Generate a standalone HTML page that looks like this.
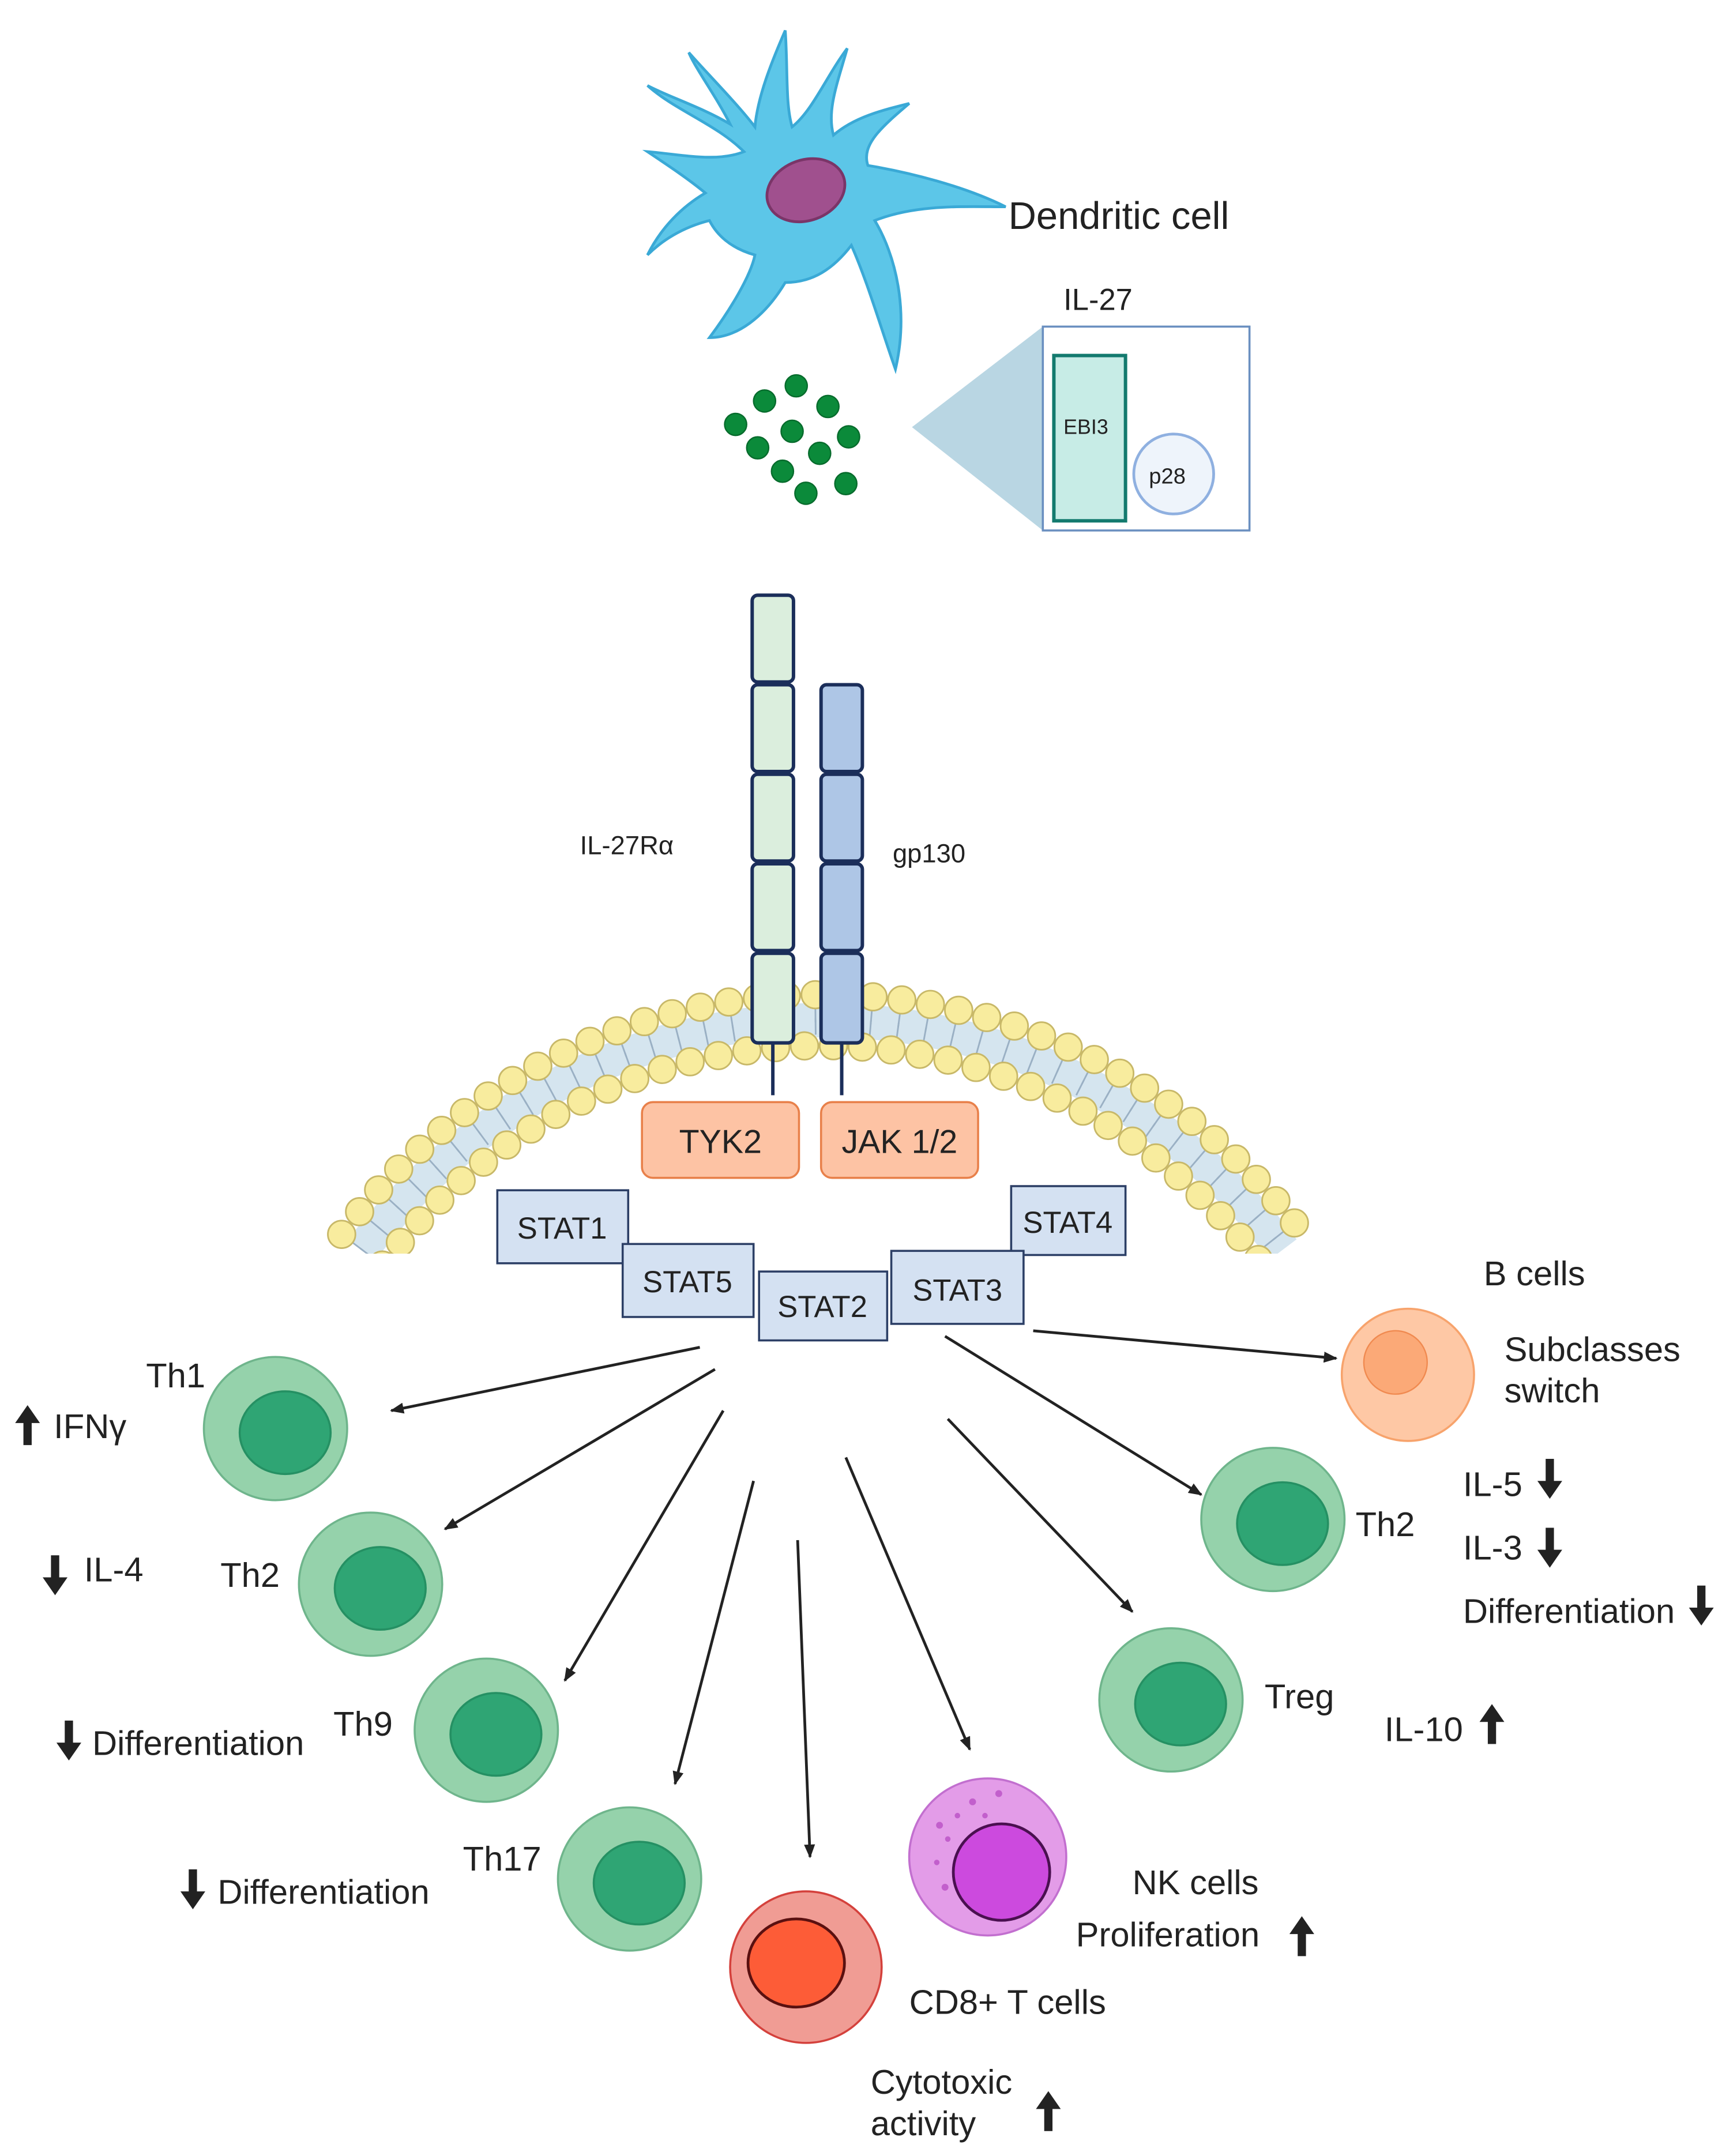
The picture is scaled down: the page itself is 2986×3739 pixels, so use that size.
<!DOCTYPE html>
<html><head><meta charset="utf-8"><style>
html,body{margin:0;padding:0;background:#fff}
svg{display:block}
text{font-family:"Liberation Sans",sans-serif;fill:#222}
.st{fill:#d4e1f2;stroke:#2c3f66;stroke-width:1.5}
.sl{font-family:"Liberation Sans Narrow","Liberation Sans",sans-serif;font-size:22px}
.ar{stroke:#222;stroke-width:2;marker-end:url(#ah)}
.lb{font-size:25px}
</style></head><body>
<svg id="s" width="2986" height="3739" viewBox="0 0 1250 1565" xmlns="http://www.w3.org/2000/svg">
<defs>
<marker id="ah" markerWidth="10" markerHeight="8" refX="9" refY="4" orient="auto" markerUnits="userSpaceOnUse"><path d="M0,0 L10,4 L0,8 z" fill="#222"/></marker>
<clipPath id="mc"><rect x="0" y="0" width="1250" height="910"/></clipPath>
<g id="upa"><path d="M-3,12 L-3,-4 L-9,-4 L0,-17 L9,-4 L3,-4 L3,12 z" fill="#222"/></g>
<g id="dna"><path d="M-3,-12 L-3,4 L-9,4 L0,17 L9,4 L3,4 L3,-12 z" fill="#222"/></g>
</defs>
<g fill="#5cc6e8" stroke="#3aa9d6" stroke-width="2">
<path d="M540,110 C520,90 490,80 470,62 C485,70 510,78 530,90 C520,70 505,50 500,38 C515,55 535,75 548,92 C550,70 560,45 570,22 C572,50 570,75 575,92 C590,80 600,55 615,35 C608,60 600,80 605,98 C620,85 640,80 660,75 C640,92 625,105 630,120 C660,125 700,135 730,150 C700,150 665,148 635,160 C650,185 660,225 650,268 C640,240 630,205 618,178 C605,195 590,205 570,205 C555,230 535,245 515,245 C530,225 545,200 548,185 C530,180 520,170 515,160 C495,165 480,175 470,185 C480,165 495,150 512,140 C500,130 485,120 470,110 C495,112 520,118 540,110 z"/>
</g>
<ellipse cx="585" cy="138" rx="29" ry="22" fill="#a0508e" stroke="#7a3568" stroke-width="2" transform="rotate(-20 585 138)"/>
<text x="732" y="166" style="font-size:28px">Dendritic cell</text>
<text x="772" y="225" style="font-size:22px">IL-27</text>
<polygon points="662,310 757,237 757,385" fill="#b9d6e3"/>
<rect x="757" y="237" width="150" height="148" fill="#fff" stroke="#6a8fc0" stroke-width="1.5"/>
<rect x="765" y="258" width="52" height="120" fill="#c7ece6" stroke="#137a6e" stroke-width="2.5"/>
<text x="772" y="315" style="font-size:15px">EBI3</text>
<circle cx="852" cy="344" r="29" fill="#eef4fb" stroke="#8fb0e0" stroke-width="2"/>
<text x="834" y="351" style="font-size:16px">p28</text>
<g fill="#0b8a3a" stroke="#076b2c">
<circle cx="578" cy="280" r="8"/><circle cx="555" cy="291" r="8"/><circle cx="601" cy="295" r="8"/><circle cx="534" cy="308" r="8"/><circle cx="575" cy="313" r="8"/><circle cx="616" cy="317" r="8"/><circle cx="550" cy="325" r="8"/><circle cx="595" cy="329" r="8"/><circle cx="568" cy="342" r="8"/><circle cx="614" cy="351" r="8"/><circle cx="585" cy="358" r="8"/>
</g>
<g id="mem" clip-path="url(#mc)">
<path id="band" fill="#d5e5ef" stroke="none"/>
</g>
<g stroke="#1b2e5a" stroke-width="2.5">
<rect x="546" y="432" width="30" height="63" rx="4" fill="#dbeedd"/>
<rect x="546" y="497" width="30" height="63" rx="4" fill="#dbeedd"/>
<rect x="546" y="562" width="30" height="63" rx="4" fill="#dbeedd"/>
<rect x="546" y="627" width="30" height="63" rx="4" fill="#dbeedd"/>
<rect x="546" y="692" width="30" height="65" rx="4" fill="#dbeedd"/>
<rect x="596" y="497" width="30" height="63" rx="4" fill="#aec6e6"/>
<rect x="596" y="562" width="30" height="63" rx="4" fill="#aec6e6"/>
<rect x="596" y="627" width="30" height="63" rx="4" fill="#aec6e6"/>
<rect x="596" y="692" width="30" height="65" rx="4" fill="#aec6e6"/>
<line x1="561" y1="757" x2="561" y2="795"/><line x1="611" y1="757" x2="611" y2="795"/>
</g>
<text x="421" y="620" style="font-size:19px">IL-27Rα</text>
<text x="648" y="626" style="font-size:19px">gp130</text>
<rect x="466" y="800" width="114" height="55" rx="8" fill="#fdc3a4" stroke="#e8804a" stroke-width="1.5"/>
<text x="523" y="837" class="sl" text-anchor="middle" style="font-size:24px">TYK2</text>
<rect x="596" y="800" width="114" height="55" rx="8" fill="#fdc3a4" stroke="#e8804a" stroke-width="1.5"/>
<text x="653" y="837" class="sl" text-anchor="middle" style="font-size:24px">JAK 1/2</text>
<rect class="st" x="361" y="864" width="95" height="53"/><text class="sl" x="408" y="899" text-anchor="middle">STAT1</text>
<rect class="st" x="734" y="861" width="83" height="50"/><text class="sl" x="775" y="895" text-anchor="middle">STAT4</text>
<rect class="st" x="452" y="903" width="95" height="53"/><text class="sl" x="499" y="938" text-anchor="middle">STAT5</text>
<rect class="st" x="647" y="908" width="96" height="53"/><text class="sl" x="695" y="944" text-anchor="middle">STAT3</text>
<rect class="st" x="551" y="923" width="93" height="50"/><text class="sl" x="597" y="956" text-anchor="middle">STAT2</text>
<line class="ar" x1="508" y1="978" x2="284" y2="1024"/>
<line class="ar" x1="519" y1="994" x2="323" y2="1110"/>
<line class="ar" x1="525" y1="1024" x2="410" y2="1220"/>
<line class="ar" x1="547" y1="1075" x2="490" y2="1295"/>
<line class="ar" x1="579" y1="1118" x2="588" y2="1348"/>
<line class="ar" x1="614" y1="1058" x2="704" y2="1270"/>
<line class="ar" x1="688" y1="1030" x2="822" y2="1170"/>
<line class="ar" x1="686" y1="970" x2="872" y2="1085"/>
<line class="ar" x1="750" y1="966" x2="970" y2="986"/>
<g stroke="#6fb58c" stroke-width="1.5">
<circle cx="200" cy="1037" r="52" fill="#95d2ab"/><ellipse cx="207" cy="1040" rx="33" ry="30" fill="#2fa574" stroke="#259063"/>
<circle cx="269" cy="1150" r="52" fill="#95d2ab"/><ellipse cx="276" cy="1153" rx="33" ry="30" fill="#2fa574" stroke="#259063"/>
<circle cx="353" cy="1256" r="52" fill="#95d2ab"/><ellipse cx="360" cy="1259" rx="33" ry="30" fill="#2fa574" stroke="#259063"/>
<circle cx="457" cy="1364" r="52" fill="#95d2ab"/><ellipse cx="464" cy="1367" rx="33" ry="30" fill="#2fa574" stroke="#259063"/>
<circle cx="924" cy="1103" r="52" fill="#95d2ab"/><ellipse cx="931" cy="1106" rx="33" ry="30" fill="#2fa574" stroke="#259063"/>
<circle cx="850" cy="1234" r="52" fill="#95d2ab"/><ellipse cx="857" cy="1237" rx="33" ry="30" fill="#2fa574" stroke="#259063"/>
</g>
<circle cx="1022" cy="998" r="48" fill="#fec8a5" stroke="#f7a36c" stroke-width="1.5"/>
<circle cx="1013" cy="989" r="23" fill="#fba977" stroke="#f08a50"/>
<circle cx="585" cy="1428" r="55" fill="#f09c94" stroke="#d4413c" stroke-width="1.5"/>
<ellipse cx="578" cy="1425" rx="35" ry="32" fill="#fd5c37" stroke="#5a1010" stroke-width="2"/>
<circle cx="717" cy="1348" r="57" fill="#e39ce8" stroke="#c26fcf" stroke-width="1.5"/>
<circle cx="727" cy="1359" r="35" fill="#cc4ade" stroke="#4a1050" stroke-width="2"/>
<g fill="#c25fcc"><circle cx="682" cy="1325" r="2.5"/><circle cx="688" cy="1335" r="2"/><circle cx="706" cy="1308" r="2.5"/><circle cx="715" cy="1318" r="2"/><circle cx="725" cy="1302" r="2.5"/><circle cx="680" cy="1352" r="2"/><circle cx="686" cy="1370" r="2.5"/><circle cx="695" cy="1318" r="2"/></g>
<g>
<text x="106" y="1007" class="lb">Th1</text>
<text x="39" y="1044" class="lb">IFNγ</text>
<text x="61" y="1148" class="lb">IL-4</text>
<text x="160" y="1152" class="lb">Th2</text>
<text x="242" y="1260" class="lb">Th9</text>
<text x="67" y="1274" class="lb">Differentiation</text>
<text x="336" y="1358" class="lb">Th17</text>
<text x="158" y="1382" class="lb">Differentiation</text>
<text x="660" y="1462" class="lb">CD8+  T cells</text>
<text x="632" y="1520" class="lb">Cytotoxic</text>
<text x="632" y="1550" class="lb">activity</text>
<text x="822" y="1375" class="lb">NK cells</text>
<text x="781" y="1413" class="lb">Proliferation</text>
<text x="918" y="1240" class="lb">Treg</text>
<text x="1005" y="1264" class="lb">IL-10</text>
<text x="984" y="1115" class="lb">Th2</text>
<text x="1062" y="1086" class="lb">IL-5</text>
<text x="1062" y="1132" class="lb">IL-3</text>
<text x="1062" y="1178" class="lb">Differentiation</text>
<text x="1077" y="933" class="lb">B cells</text>
<text x="1092" y="988" class="lb">Subclasses</text>
<text x="1092" y="1018" class="lb">switch</text>
</g>
<use href="#upa" x="20" y="1037"/>
<use href="#dna" x="40" y="1141"/>
<use href="#dna" x="50" y="1261"/>
<use href="#dna" x="140" y="1369"/>
<use href="#upa" x="761" y="1535"/>
<use href="#upa" x="945" y="1408"/>
<use href="#upa" x="1083" y="1254"/>
<use href="#dna" x="1125" y="1071"/>
<use href="#dna" x="1125" y="1121"/>
<use href="#dna" x="1235" y="1163"/>
</svg>
<script>
(function(){
var ns="http://www.w3.org/2000/svg",g=document.getElementById("mem");
var cx=597,cy=1159,Ro=437,Ri=400,a0=-53*Math.PI/180,a1=53*Math.PI/180;
function P(r,a){return [cx+r*Math.sin(a),cy-r*Math.cos(a)];}
var p1=P(Ro-6,a0),p2=P(Ro-6,a1),p3=P(Ri+6,a1),p4=P(Ri+6,a0);
document.getElementById("band").setAttribute("d","M"+p1+" A"+(Ro-6)+","+(Ro-6)+" 0 0 1 "+p2+" L"+p3+" A"+(Ri+6)+","+(Ri+6)+" 0 0 0 "+p4+"z");
function add(t,at){var e=document.createElementNS(ns,t);for(var k in at)e.setAttribute(k,at[k]);g.appendChild(e);}
var step=21/Ro;
for(var a=a0;a<=a1;a+=step){var q=P(Ro-8,a),w=P(Ro-20,a);add("line",{x1:q[0],y1:q[1],x2:w[0],y2:w[1],stroke:"#9ab0c4","stroke-width":1.2});
var q2=P(Ri+8,a),w2=P(Ri+20,a);add("line",{x1:q2[0],y1:q2[1],x2:w2[0],y2:w2[1],stroke:"#9ab0c4","stroke-width":1.2});}
for(var a=a0;a<=a1;a+=step){var c=P(Ro,a);add("circle",{cx:c[0],cy:c[1],r:10,fill:"#f8ec9e",stroke:"#c8b868","stroke-width":1.2});}
var s2=21/Ri;
for(var a=a0;a<=a1;a+=s2){var c=P(Ri,a);add("circle",{cx:c[0],cy:c[1],r:10,fill:"#f8ec9e",stroke:"#c8b868","stroke-width":1.2});}
})();
</script>
</body></html>
